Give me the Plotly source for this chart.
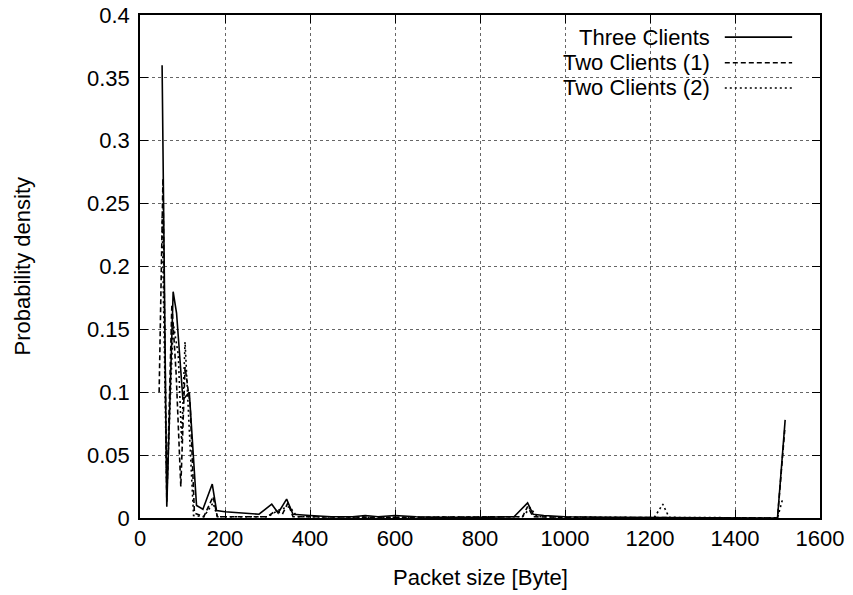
import plotly.graph_objects as go

# Data
three_x = [52, 63, 78, 86, 101, 116, 133, 148, 170, 180, 200, 250, 280, 310, 325, 345, 360, 400, 450,
           500, 530, 560, 600, 650, 700, 800, 880, 912, 925, 950, 1000, 1100, 1200, 1300, 1400, 1500, 1518]
three_y = [0.36, 0.009, 0.18, 0.163, 0.094, 0.10, 0.01, 0.007, 0.027, 0.006, 0.005, 0.004, 0.003, 0.011,
           0.004, 0.015, 0.003, 0.002, 0.001, 0.001, 0.002, 0.001, 0.002, 0.001, 0.0005, 0.0005, 0.001,
           0.012, 0.003, 0.002, 0.001, 0.0005, 0.0003, 0.0003, 0.0002, 0.0, 0.078]

two1_x = [45, 54, 63, 75, 85, 96, 106, 118, 128, 150, 172, 182, 250, 300, 320, 335, 348, 360, 400,
          600, 900, 912, 925, 1000, 1200, 1500, 1517]
two1_y = [0.10, 0.27, 0.013, 0.17, 0.115, 0.025, 0.12, 0.09, 0.004, 0.001, 0.017, 0.001, 0.001, 0.001,
          0.006, 0.003, 0.012, 0.001, 0.001, 0.0005, 0.001, 0.009, 0.001, 0.0005, 0.0003, 0.0, 0.07]

two2_x = [52, 63, 78, 90, 98, 106, 116, 126, 150, 172, 182, 300, 330, 352, 370, 600, 900, 918, 935,
          1100, 1210, 1230, 1245, 1400, 1500, 1512]
two2_y = [0.24, 0.02, 0.155, 0.13, 0.06, 0.14, 0.07, 0.002, 0.001, 0.012, 0.001, 0.001, 0.007, 0.009,
          0.001, 0.0005, 0.001, 0.008, 0.001, 0.0003, 0.0003, 0.011, 0.0005, 0.0002, 0.0, 0.015]

series_names = ["Three Clients", "Two Clients (1)", "Two Clients (2)"]
series_dash = ["solid", "5px,3px", "2px,3px"]

x_ticks = [0, 200, 400, 600, 800, 1000, 1200, 1400, 1600]
y_ticks = [0, 0.05, 0.1, 0.15, 0.2, 0.25, 0.3, 0.35, 0.4]
y_tick_labels = ["0", "0.05", "0.1", "0.15", "0.2", "0.25", "0.3", "0.35", "0.4"]

x_title = "Packet size [Byte]"
y_title = "Probability density"

FONT = "Liberation Sans, Arial, Helvetica, sans-serif"
FS = 22

fig = go.Figure()
for xs, ys, name, dash in zip([three_x, two1_x, two2_x], [three_y, two1_y, two2_y],
                              series_names, series_dash):
    fig.add_trace(go.Scatter(x=xs, y=ys, mode="lines", name=name,
                             line=dict(color="black", width=1.6, dash=dash),
                             showlegend=False))

# white box behind the key (blanks the grid like gnuplot)
fig.add_shape(type="rect", xref="paper", yref="paper", x0=0.525, x1=0.995, y0=0.837, y1=0.997,
              fillcolor="white", line=dict(width=0), layer="between")

# custom gnuplot-style key: text right-aligned, sample to the right
key_y = [0.956, 0.905, 0.855]
for name, dash, ky in zip(series_names, series_dash, key_y):
    fig.add_annotation(xref="paper", yref="paper", x=0.841, y=ky, text=name, showarrow=False,
                       xanchor="right", yanchor="middle", font=dict(family=FONT, size=FS, color="black"))
    fig.add_shape(type="line", xref="paper", yref="paper", x0=0.860, x1=0.959, y0=ky, y1=ky,
                  line=dict(color="black", width=1.6, dash=dash))

# axis titles
fig.add_annotation(xref="paper", yref="paper", x=0.5, y=-0.119, text=x_title, showarrow=False,
                   xanchor="center", yanchor="middle", font=dict(family=FONT, size=FS, color="black"))
fig.add_annotation(xref="paper", yref="paper", x=-0.1735, y=0.5, text=y_title, showarrow=False,
                   textangle=-90, xanchor="center", yanchor="middle",
                   font=dict(family=FONT, size=FS, color="black"))

axis_common = dict(
    showline=True, linecolor="black", linewidth=1.5, mirror="ticks",
    ticks="inside", ticklen=8, tickcolor="black", tickwidth=1.2,
    showgrid=True, gridcolor="#666666", griddash="dot", gridwidth=1,
    zeroline=False, automargin=False, ticklabeloverflow="allow",
    tickfont=dict(family=FONT, size=FS, color="black"),
)

fig.update_xaxes(range=[0, 1600], tickvals=x_ticks, ticktext=[str(v) for v in x_ticks], **axis_common)
fig.update_yaxes(range=[0, 0.4], tickvals=y_ticks, ticktext=y_tick_labels, ticklabelstandoff=4,
                 **axis_common)

fig.update_layout(width=853, height=595, margin=dict(l=140, r=33, t=15, b=77),
                  plot_bgcolor="white", paper_bgcolor="white",
                  font=dict(family=FONT, size=FS, color="black"))

# remove the default page margin so the figure sits at the window's top-left corner
fig.write_html("out.html", post_script="document.body.style.margin='0px';",
               config={"displayModeBar": False})
